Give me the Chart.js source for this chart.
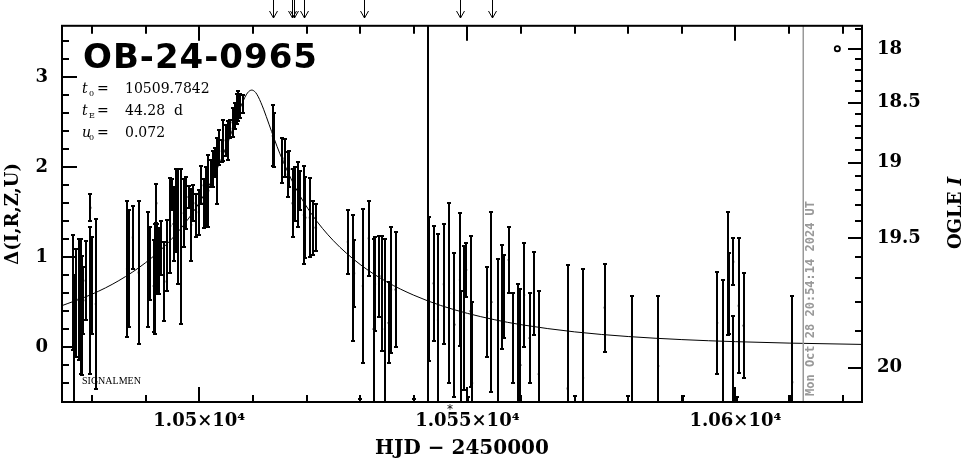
<!DOCTYPE html>
<html>
<head>
<meta charset="utf-8">
<script src="https://cdn.jsdelivr.net/npm/chart.js@4.4.1/dist/chart.umd.min.js"></script>
<style>
  html, body { margin: 0; padding: 0; background: #fff; }
</style>
</head>
<body>
<canvas id="lc" width="965" height="459"></canvas>
<script>
// observations: time (HJD-2450000), delta, error half-width
const obsT = [
  10476.5, 10476.6, 10477.0, 10477.5, 10477.9, 10478.2, 10478.4, 10478.8, 10479.7, 10479.7, 10480.0, 10480.7,
  10486.5, 10486.9, 10487.6, 10488.7, 10490.5, 10490.8, 10491.5, 10491.8, 10492.0, 10492.2,
  10492.4, 10492.9, 10493.5, 10494.0, 10494.6, 10494.9, 10495.2, 10495.7, 10496.0, 10496.6, 10497.1, 10497.5,
  10498.0, 10498.5, 10498.9, 10499.4, 10499.9, 10500.4, 10500.8, 10501.2, 10501.7, 10502.2, 10502.5, 10502.9,
  10503.3, 10503.7, 10504.2, 10504.5, 10505.0, 10505.4, 10505.8, 10506.2, 10506.6, 10507.0, 10507.3, 10507.6, 10508.1,
  10513.7, 10513.9, 10515.5, 10515.9, 10516.5, 10516.8, 10517.4, 10517.8, 10518.4, 10518.7, 10519.5, 10519.8,
  10520.6, 10521.3, 10521.8,
  10527.7, 10528.7, 10528.9, 10530.0, 10530.5, 10531.6, 10532.5, 10532.8, 10533.6, 10534.1, 10534.6, 10535.3,
  10535.8, 10536.6, 10540.1, 10542.8, 10543.7, 10544.5,
  10545.6, 10546.6, 10547.6, 10548.6, 10548.8, 10549.4, 10549.8, 10550.2, 10550.6, 10550.9, 10553.7, 10554.5,
  10555.7, 10556.5, 10556.8, 10557.7, 10558.5, 10559.5, 10559.9, 10560.6, 10561.6, 10562.4, 10563.3,
  10568.7, 10570.1, 10571.6, 10575.6, 10580.0, 10580.7, 10585.6, 10590.2, 10596.6, 10597.7, 10598.6, 10598.8,
  10599.6, 10599.6, 10600.2, 10600.6, 10601.5, 10610.3, 10610.6
];
const obsD = [
  0.61, 0.00, 0.49, 0.53, 0.45, 0.35, 0.52, 0.74, 1.55, 0.52, 0.69, 0.48,
  0.87, 0.87, 1.22, 0.83, 0.86, 0.93, 0.68, 0.76, 1.60, 0.98,
  0.96, 1.10, 0.73, 1.02, 1.35, 1.70, 1.37, 1.52, 1.34, 1.12, 1.49, 1.60,
  1.67, 1.36, 1.60, 1.46, 1.50, 1.80, 1.60, 1.67, 1.74, 1.93, 1.98, 2.05,
  1.96, 2.22, 2.18, 2.30, 2.30, 2.30, 2.43, 2.50, 2.57, 2.65, 2.68, 2.68, 2.70,
  2.35, 2.30, 2.08, 2.10, 1.92, 1.98, 1.60, 1.70, 1.70, 1.74, 1.47, 1.44,
  1.44, 1.33, 1.33,
  1.17, 0.77, 0.82, -1.00, 0.68, 1.21, 0.20, 0.70, 0.79, 0.60, 0.20, 0.27,
  0.64, 0.64, -1.00, 0.65, 0.71, 0.30,
  0.70, 0.60, 0.25, 0.75, -0.30, 0.32, 0.86, -1.20, 0.40, -0.40, 0.39, 0.50,
  0.10, 0.56, 0.56, 0.97, 0.10, -0.10, -0.20, 0.58, 0.10, 0.60, -0.30,
  -0.46, -1.50, -0.34, 0.44, -1.50, -0.24, -0.21, -1.50, 0.27, -0.70, 0.82, 0.60,
  0.95, -0.60, -1.20, 0.46, 0.24, -1.50, -0.39
];
const obsE = [
  0.64, 0.80, 0.60, 0.67, 0.75, 0.66, 0.37, 0.44, 0.15, 0.82, 0.54, 0.94,
  0.76, 0.65, 0.35, 0.79, 0.64, 0.41, 0.51, 0.61, 0.22, 0.39,
  0.37, 0.30, 0.44, 0.39, 0.53, 0.17, 0.41, 0.46, 0.64, 0.86, 0.38, 0.29,
  0.12, 0.40, 0.20, 0.24, 0.25, 0.21, 0.27, 0.33, 0.40, 0.15, 0.20, 0.16,
  0.37, 0.19, 0.12, 0.23, 0.17, 0.22, 0.10, 0.16, 0.14, 0.17, 0.17, 0.13, 0.10,
  0.34, 0.30, 0.25, 0.21, 0.25, 0.20, 0.38, 0.30, 0.36, 0.22, 0.55, 0.45,
  0.44, 0.30, 0.26,
  0.36, 0.70, 0.37, 0.42, 0.86, 0.42, 1.00, 0.52, 0.45, 0.64, 1.00, 0.45,
  0.70, 0.64, 0.42, 0.80, 0.64, 0.96,
  0.67, 1.00, 0.80, 0.74, 0.93, 0.80, 0.30, 0.65, 0.84, 0.90, 0.50, 1.00,
  0.88, 0.58, 0.46, 0.37, 0.50, 0.80, 0.85, 0.58, 0.50, 0.46, 0.93,
  1.37, 0.96, 1.21, 0.49, 0.96, 0.81, 0.78, 0.96, 0.565, 1.45, 0.68, 0.45,
  0.26, 0.95, 0.65, 0.75, 0.58, 0.96, 0.96
];

// model curve
const modelT = [10474, 10480, 10485, 10490, 10494, 10497, 10500, 10502, 10504, 10506, 10507, 10508, 10509,
  10509.8, 10510.5, 10511, 10512, 10513, 10515, 10518, 10521, 10525, 10530, 10535, 10540, 10545, 10550,
  10555, 10560, 10570, 10580, 10590, 10600, 10610, 10624];
const modelD = [0.453, 0.589, 0.740, 0.940, 1.150, 1.352, 1.606, 1.818, 2.076, 2.385, 2.554, 2.712, 2.828,
  2.859, 2.833, 2.785, 2.646, 2.480, 2.157, 1.768, 1.476, 1.185, 0.920, 0.725, 0.578, 0.464, 0.376,
  0.306, 0.250, 0.170, 0.118, 0.084, 0.061, 0.045, 0.030];

const baseT = [10619.0];
const baseD = [3.32];

const arrowT = [10513.75, 10517.3, 10517.6, 10519.46, 10530.65, 10548.56, 10554.6];
const nowT = 10542.6;
const dateT = 10612.55;
const starT = 10546.7;

const xMajor = [10500, 10550, 10600];
const xLabels = ['1.05×10⁴', '1.055×10⁴', '1.06×10⁴'];
const xMinor = [10480, 10490, 10510, 10520, 10530, 10540, 10560, 10570, 10580, 10590, 10610, 10620];
const yMajor = [0, 1, 2, 3];
const yMinor = [-0.4, -0.2, 0.2, 0.4, 0.6, 0.8, 1.2, 1.4, 1.6, 1.8, 2.2, 2.4, 2.6, 2.8, 3.2, 3.4];
const ogleMajor = [18, 18.5, 19, 19.5, 20];
const ogleLabels = ['18', '18.5', '19', '19.5', '20'];
const ogleMinor = [17.8, 18.1, 18.2, 18.3, 18.4, 18.6, 18.7, 18.8, 18.9, 19.1, 19.2, 19.3, 19.4, 19.6, 19.7, 19.8, 19.9];

// OGLE I magnitude -> delta (source + blend flux)
const srcFlux = 0.0413, blendFlux = 0.125, refMag = 18;
function magToDelta(m) {
  const f = Math.pow(10, -0.4 * (m - refMag));
  return 2.5 * Math.log10((f - blendFlux) / srcFlux);
}

const X_MIN = 10474.4, X_MAX = 10623.6, Y_MIN = -0.61, Y_MAX = 3.574;
const serif = "'DejaVu Serif', serif";

const drawExtras = {
  id: 'extras',
  beforeDraw(chart) {
    const ctx = chart.ctx;
    ctx.save();
    ctx.fillStyle = '#fff';
    ctx.fillRect(0, 0, chart.width, chart.height);
    ctx.restore();
  },
  afterDatasetsDraw(chart) {
    const ctx = chart.ctx, a = chart.chartArea;
    const xs = chart.scales.x, ys = chart.scales.y;
    const px = (t) => Math.round(xs.getPixelForValue(t));
    const py = (d) => ys.getPixelForValue(d);

    ctx.save();
    ctx.beginPath();
    ctx.rect(a.left, a.top, a.right - a.left, a.bottom - a.top);
    ctx.clip();
    // error bars
    ctx.strokeStyle = '#000';
    ctx.lineWidth = 2;
    obsT.forEach((t, i) => {
      const x = px(t);
      const y1 = Math.round(py(obsD[i] + obsE[i]));
      const y2 = Math.round(py(obsD[i] - obsE[i]));
      ctx.beginPath();
      ctx.moveTo(x, y1); ctx.lineTo(x, y2);
      ctx.moveTo(x - 2, y1); ctx.lineTo(x + 2, y1);
      ctx.moveTo(x - 2, y2); ctx.lineTo(x + 2, y2);
      ctx.stroke();
    });
    // current time line
    ctx.beginPath();
    ctx.moveTo(px(nowT), a.top); ctx.lineTo(px(nowT), a.bottom);
    ctx.stroke();
    // date line
    ctx.strokeStyle = '#999';
    ctx.lineWidth = 1.5;
    ctx.beginPath();
    ctx.moveTo(px(dateT) + 0.25, a.top); ctx.lineTo(px(dateT) + 0.25, a.bottom);
    ctx.stroke();
    ctx.restore();

    // date stamp
    ctx.save();
    ctx.translate(px(dateT) + 8, a.bottom - 6);
    ctx.rotate(-Math.PI / 2);
    ctx.fillStyle = '#999';
    ctx.font = "bold 12px 'DejaVu Sans Mono', monospace";
    ctx.textAlign = 'left';
    ctx.textBaseline = 'middle';
    ctx.fillText('Mon Oct 28 20:54:14 2024 UT', 0, 0);
    ctx.restore();

    // frame + ticks
    ctx.save();
    ctx.strokeStyle = '#000';
    ctx.lineWidth = 2;
    ctx.strokeRect(a.left, a.top, a.right - a.left, a.bottom - a.top);
    const seg = (x1, y1, x2, y2) => { ctx.beginPath(); ctx.moveTo(x1, y1); ctx.lineTo(x2, y2); ctx.stroke(); };
    xMajor.forEach(t => { seg(px(t), a.bottom, px(t), a.bottom - 15); seg(px(t), a.top, px(t), a.top + 15); });
    xMinor.forEach(t => { seg(px(t), a.bottom, px(t), a.bottom - 7); seg(px(t), a.top, px(t), a.top + 8); });
    yMajor.forEach(d => { const y = Math.round(py(d)); seg(a.left, y, a.left + 15, y); });
    yMinor.forEach(d => { const y = Math.round(py(d)); seg(a.left, y, a.left + 7, y); });
    ogleMajor.forEach(m => { const y = Math.round(py(magToDelta(m))); seg(a.right, y, a.right - 14, y); });
    ogleMinor.forEach(m => { const y = Math.round(py(magToDelta(m))); seg(a.right, y, a.right - 7, y); });

    // arrows above the frame
    ctx.lineWidth = 1;
    arrowT.forEach(t => {
      const x = px(t) + 0.5;
      ctx.beginPath();
      ctx.moveTo(x, 0); ctx.lineTo(x, 18);
      ctx.moveTo(x - 4, 11); ctx.lineTo(x, 18); ctx.lineTo(x + 4, 11);
      ctx.stroke();
    });

    ctx.fillStyle = '#000';
    ctx.font = "12px 'DejaVu Sans', sans-serif";
    ctx.textAlign = 'center';
    ctx.textBaseline = 'top';
    ctx.fillText('*', px(starT), a.bottom + 2);

    // event name
    ctx.textAlign = 'left';
    ctx.textBaseline = 'alphabetic';
    ctx.font = "bold 34px 'DejaVu Sans', sans-serif";
    ctx.letterSpacing = '1px';
    ctx.fillText('OB-24-0965', 83, 68);
    ctx.letterSpacing = '0px';

    // fit parameters
    const params = [
      ['t', '0', '10509.7842', 93],
      ['t', 'E', '44.28  d', 115],
      ['u', '0', '0.072', 137]
    ];
    params.forEach(p => {
      ctx.font = "italic 14px " + serif;
      ctx.fillText(p[0], 82, p[3]);
      ctx.font = "8px " + serif;
      ctx.fillText(p[1], 89, p[3] + 3);
      ctx.font = "14px " + serif;
      ctx.fillText('=', 97, p[3]);
      ctx.fillText(p[2], 125, p[3]);
    });

    ctx.font = "10px 'Liberation Serif', serif";
    ctx.fillText('SIGNALMEN', 82, 384);

    // right axis title
    ctx.translate(956, 213);
    ctx.rotate(-Math.PI / 2);
    ctx.textBaseline = 'middle';
    ctx.font = "bold 18px " + serif;
    const w1 = ctx.measureText('OGLE ').width;
    ctx.font = "bold italic 18px " + serif;
    const w2 = ctx.measureText('I').width;
    ctx.font = "bold 18px " + serif;
    ctx.fillText('OGLE ', -(w1 + w2) / 2, 0);
    ctx.font = "bold italic 18px " + serif;
    ctx.fillText('I', -(w1 + w2) / 2 + w1, 0);
    ctx.restore();
  }
};

const tickFont = { family: serif, weight: 'bold', size: 18 };

new Chart(document.getElementById('lc'), {
  type: 'scatter',
  data: {
    datasets: [
      {
        label: 'model',
        data: modelT.map((t, i) => ({ x: t, y: modelD[i] })),
        showLine: true,
        borderColor: '#000',
        borderWidth: 1,
        pointRadius: 0,
        cubicInterpolationMode: 'monotone'
      },
      {
        label: 'data',
        data: obsT.map((t, i) => ({ x: t, y: obsD[i] })),
        pointStyle: 'rect',
        pointRadius: 1.3,
        backgroundColor: '#000',
        borderColor: '#000',
        borderWidth: 0
      },
      {
        label: 'baseline',
        data: baseT.map((t, i) => ({ x: t, y: baseD[i] })),
        pointRadius: 2.6,
        borderWidth: 1.8,
        borderColor: '#000',
        backgroundColor: '#fff',
        clip: false
      }
    ]
  },
  options: {
    responsive: false,
    animation: false,
    events: [],
    layout: { padding: { top: 25, left: 0, right: 0, bottom: 0 } },
    plugins: { legend: { display: false }, tooltip: { enabled: false } },
    scales: {
      x: {
        type: 'linear', position: 'bottom', min: X_MIN, max: X_MAX,
        grid: { display: false, drawTicks: false },
        border: { display: false },
        afterBuildTicks: (s) => { s.ticks = xMajor.map(v => ({ value: v })); },
        afterFit: (s) => { s.height = 57; },
        ticks: {
          autoSkip: false, maxRotation: 0, padding: 9, color: '#000', font: tickFont,
          callback: (v) => xLabels[xMajor.indexOf(v)]
        },
        title: {
          display: true, text: 'HJD − 2450000', color: '#000',
          font: { family: serif, weight: 'bold', size: 20, lineHeight: 1 },
          padding: { top: 0, bottom: 0 }
        }
      },
      y: {
        type: 'linear', position: 'left', min: Y_MIN, max: Y_MAX,
        grid: { display: false, drawTicks: false },
        border: { display: false },
        afterBuildTicks: (s) => { s.ticks = yMajor.map(v => ({ value: v })); },
        afterFit: (s) => { s.width = 62; },
        ticks: { autoSkip: false, padding: 14, color: '#000', font: tickFont, callback: (v) => String(v) },
        title: {
          display: true, text: 'Δ(I,R,Z,U)', color: '#000',
          font: { family: serif, weight: 'bold', size: 18, lineHeight: 1.2 },
          padding: { top: 3, bottom: 0 }
        }
      },
      y2: {
        type: 'linear', position: 'right', min: Y_MIN, max: Y_MAX,
        grid: { display: false, drawTicks: false },
        border: { display: false },
        afterBuildTicks: (s) => { s.ticks = ogleMajor.map(m => ({ value: magToDelta(m) })); },
        afterFit: (s) => { s.width = 103; },
        ticks: {
          autoSkip: false, padding: 15, color: '#000', font: tickFont,
          callback: (v, i) => ogleLabels[i]
        }
      }
    }
  },
  plugins: [drawExtras]
});
</script>
</body>
</html>
